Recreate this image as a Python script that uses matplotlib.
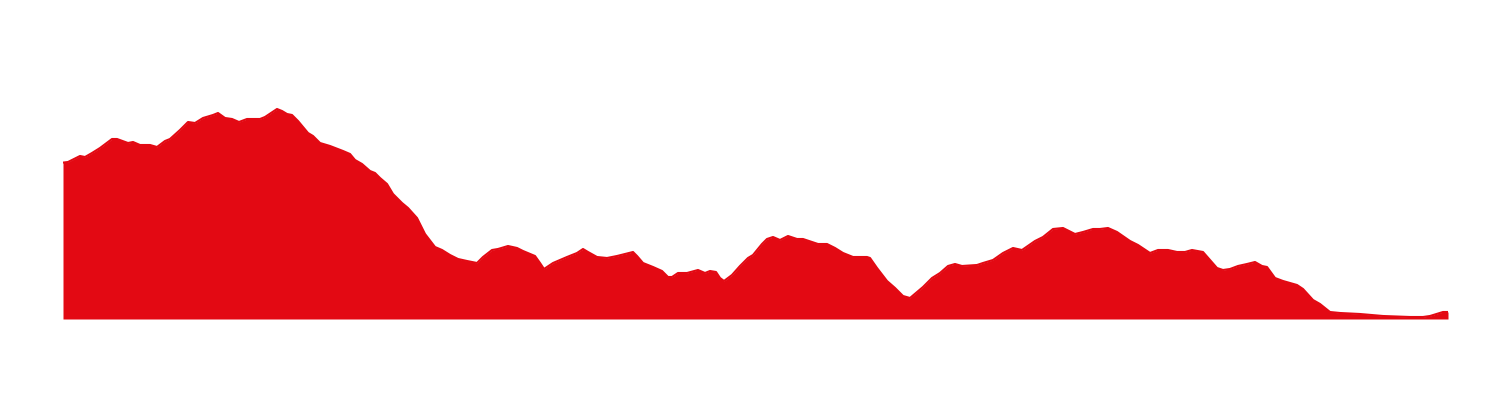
import numpy as np
import matplotlib.pyplot as plt

# elevation profile: distance (km) and elevation (m)
dist_km = [0.0, 0.5, 1.7, 2.2, 2.9, 3.7, 4.9, 5.4, 6.5, 7.0, 7.7, 8.7, 9.4, 10.2, 10.7,
           11.7, 12.5, 13.2, 14.0, 15.0, 15.5, 16.2, 16.9, 17.6, 18.4, 19.7, 20.2, 21.4,
           21.9, 22.4, 22.9, 23.5, 24.0, 24.5, 25.0, 25.7, 26.7, 28.0, 28.7, 29.2, 29.9,
           30.7, 31.2, 31.7, 32.4, 33.0, 33.9, 34.5, 35.4, 36.2, 37.2, 37.9, 38.7, 39.5,
           40.4, 41.4, 42.0, 42.9, 43.5, 44.5, 45.4, 46.0, 47.2, 47.7, 48.1, 49.0, 50.4,
           51.4, 52.0, 52.5, 53.4, 54.4, 55.4, 56.2, 57.0, 57.4, 58.0, 59.0, 59.9, 60.5,
           60.9, 61.5, 62.4, 63.5, 64.2, 64.7, 65.3, 65.7, 66.1, 66.9, 67.7, 68.5, 69.0,
           69.9, 70.4, 71.0, 71.7, 72.5, 73.4, 74.0, 74.9, 75.5, 76.4, 77.2, 78.0, 79.0,
           80.4, 80.7, 81.4, 82.4, 83.2, 84.0, 84.7, 85.4, 86.0, 86.9, 87.7, 88.5, 89.2,
           89.9, 91.4, 92.0, 93.0, 94.0, 95.0, 95.9, 97.2, 98.0, 99.0, 100.0, 101.2,
           102.0, 103.0, 103.7, 104.5, 105.4, 106.7, 107.5, 108.7, 109.5, 110.5, 111.4,
           112.2, 112.9, 114.0, 114.7, 115.4, 116.0, 116.7, 117.5, 118.4, 119.2, 119.9,
           120.4, 121.2, 122.0, 123.4, 124.0, 125.0, 125.7, 126.7, 127.7, 129.7, 132.0,
           134.7, 136.0, 136.7, 138.0, 138.5]
elev_m = [782, 785, 815, 810, 830, 855, 900, 900, 880, 885, 870, 870, 860, 890, 900,
          945, 985, 980, 1005, 1020, 1030, 1005, 1000, 985, 1000, 1000, 1010, 1050,
          1040, 1025, 1020, 990, 960, 930, 915, 880, 865, 840, 825, 795, 775,
          740, 730, 705, 675, 625, 580, 555, 505, 425, 360, 345, 320, 300,
          290, 280, 310, 345, 350, 365, 355, 340, 315, 280, 250, 280, 310,
          330, 350, 335, 310, 305, 315, 325, 335, 315, 280, 260, 240, 210,
          210, 230, 230, 245, 230, 240, 235, 205, 190, 220, 265, 305, 320,
          375, 400, 410, 395, 415, 400, 400, 385, 375, 375, 355, 330, 310,
          310, 305, 255, 190, 155, 115, 105, 135, 160, 205, 230, 265, 275,
          265, 270, 280, 295, 330, 355, 345, 390, 410, 450, 455, 425,
          435, 450, 450, 455, 435, 390, 370, 330, 345, 345, 335,
          335, 345, 335, 295, 255, 245, 250, 265, 275, 285, 265,
          260, 205, 190, 170, 150, 95, 75, 35, 30, 25, 15,
          10, 10, 15, 35, 35]

red = '#e30913'

fig = plt.figure(figsize=(15, 4), dpi=100)
ax = fig.add_axes([0.042, 0.2025, 0.92333, 0.5475])
ax.fill_between(dist_km, elev_m, 0, color=red, linewidth=0)
ax.plot(dist_km, elev_m, color=red, linewidth=1.5, solid_joinstyle='round')
ax.set_xlim(0, 138.5)
ax.set_ylim(0, 1095)
ax.axis('off')

fig.savefig('out.png', dpi=100, facecolor='white')
